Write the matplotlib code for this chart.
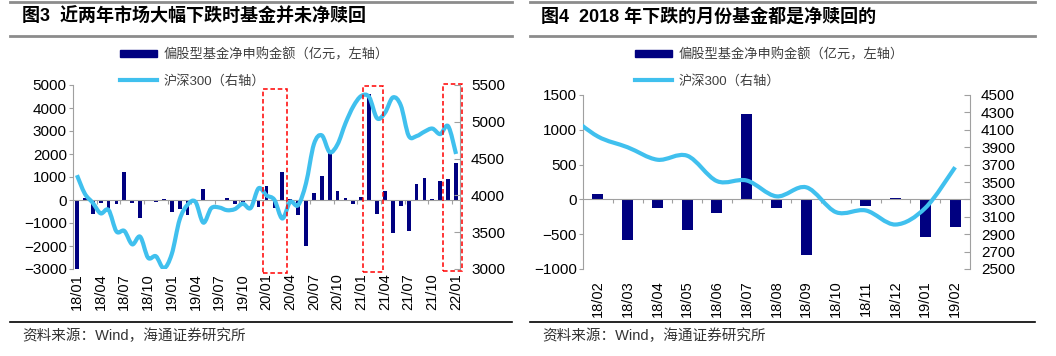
import numpy as np
import matplotlib
matplotlib.use('Agg')
import matplotlib.pyplot as plt
from matplotlib.path import Path
from matplotlib.patches import PathPatch, Patch, Rectangle
from matplotlib.lines import Line2D

plt.rcParams['font.family'] = ['Liberation Sans', 'Noto Sans CJK SC']

# 图3 数据：2018/01 - 2022/01，偏股型基金净申购（亿元）与沪深300月末点位
months3 = [f'{y:02d}/{m:02d}' for y in range(18, 23) for m in range(1, 13)][:49]
flow3 = [-3000, 77, -590, -130, -443, -192, 1231, -125, -794, -15, -101, 25,
         -534, -390, -660, -50, 480, 10, -60, 100, -170, -100, -60, -320,
         630, -330, 1220, 40, -670, -1980, 300, 1050, 2030, 380, 100, -170,
         110, 4590, -630, 390, -1450, -250, -1340, 710, 960, 60, 840, 900, 1590]
hs300_3 = [4275, 4023, 3899, 3756, 3802, 3510, 3517, 3335, 3439, 3153, 3173, 3011,
           3202, 3670, 3873, 3913, 3630, 3826, 3836, 3799, 3814, 3887, 3829, 4097,
           3999, 3940, 3686, 3912, 3867, 4164, 4695, 4816, 4588, 4695, 4980, 5211,
           5351, 5336, 5048, 5123, 5331, 5224, 4811, 4806, 4866, 4908, 4833, 4940,
           4563]

# 图4 数据：2018/02 - 2019/02（沪深300 多带一个 2018/01 点，线从左边缘进入）
months4 = months3[1:14]
flow4 = flow3[1:14]
hs300_4 = hs300_3[0:14]

NAVY = '#000080'
CYAN = '#40C0EE'
GREY = '#A0A0A0'
W, H = 1056, 356


def smooth_path(xs, ys):
    # 平滑曲线（类似 Excel 的平滑线），用三次贝塞尔段连接各数据点
    pts = np.column_stack([xs, ys]).astype(float)
    ext = np.vstack([pts[0], pts, pts[-1]])
    verts = [pts[0]]
    codes = [Path.MOVETO]
    for k in range(len(pts) - 1):
        p0, p1, p2, p3 = ext[k], ext[k + 1], ext[k + 2], ext[k + 3]
        verts += [p1 + (p2 - p0) / 6, p2 - (p3 - p1) / 6, p2]
        codes += [Path.CURVE4] * 3
    return Path(verts, codes)


def style_axes(ax, axr, labels, label_step, label_pad, boundary_ticks):
    for s in ['top', 'right']:
        ax.spines[s].set_visible(False)
    ax.spines['left'].set_color(GREY)
    ax.spines['bottom'].set_color(GREY)
    ax.spines['bottom'].set_position(('data', 0))
    ax.set_xticks(boundary_ticks, labels=[''] * len(boundary_ticks))
    ax.tick_params(axis='x', direction='out', length=3, color=GREY)
    ax.tick_params(axis='y', direction='out', length=3, color=GREY, pad=1.5, labelsize=11)
    for s in ['top', 'left', 'bottom']:
        axr.spines[s].set_visible(False)
    axr.spines['right'].set_color(GREY)
    axr.tick_params(axis='y', direction='in', length=4, color=GREY, pad=8, labelsize=11)
    sec = ax.secondary_xaxis('bottom')
    sec.spines['bottom'].set_visible(False)
    pos = np.arange(len(labels))[::label_step]
    sec.set_xticks(pos, labels=labels[::label_step], rotation=90)
    sec.tick_params(length=0, pad=label_pad, labelsize=10.5)


def add_legend(x_px):
    handles = [Patch(color=NAVY), Line2D([], [], color=CYAN, lw=3)]
    labels = ['偏股型基金净申购金额（亿元，左轴）', '沪深300（右轴）']
    fig.legend(handles, labels, loc='upper left', bbox_to_anchor=(x_px / W, 1 - 48 / H),
               frameon=False, borderpad=0, borderaxespad=0, handlelength=2.8,
               handleheight=0.45, handletextpad=0.5, labelspacing=1.0,
               fontsize=9.5, labelcolor='#404040')


fig = plt.figure(figsize=(W / 100, H / 100), dpi=100)

# ---------- 图3 ----------
ax3 = fig.add_axes([73 / W, 1 - 269 / H, 387 / W, 184 / H])
x3 = np.arange(len(flow3))
ax3.bar(x3, flow3, width=0.48, color=NAVY, zorder=2)
ax3.set_xlim(-0.5, len(flow3) - 0.5)
ax3.set_ylim(-3000, 5000)
ax3.set_yticks(np.arange(-3000, 5001, 1000))
ax3r = ax3.twinx()
ax3r.set_ylim(3000, 5500)
ax3r.set_yticks(np.arange(3000, 5501, 500))
ax3r.add_patch(PathPatch(smooth_path(x3, hs300_3), fill=False, edgecolor=CYAN,
                         lw=3, joinstyle='round'))
style_axes(ax3, ax3r, months3, 3, 3, np.arange(2.5, len(flow3), 3))

# 红色虚线框：市场大幅下跌的月份
for x0, x1, y0, y1 in [(23.5, 26.55, -3170, 4830), (36.25, 38.7, -3140, 4970),
                       (46.3, 48.74, -3090, 5030)]:
    ax3r.add_patch(Rectangle((x0, y0), x1 - x0, y1 - y0, transform=ax3.transData,
                             fill=False, edgecolor='red', lw=1.1,
                             ls=(0, (3, 1.8)), clip_on=False, zorder=5))

# ---------- 图4 ----------
ax4 = fig.add_axes([583 / W, 1 - 269 / H, 387 / W, 174 / H])
x4 = np.arange(len(flow4))
ax4.bar(x4, flow4, width=0.37, color=NAVY, zorder=2)
ax4.set_xlim(-0.5, len(flow4) - 0.5)
ax4.set_ylim(-1000, 1500)
ax4.set_yticks(np.arange(-1000, 1501, 500))
ax4r = ax4.twinx()
ax4r.set_ylim(2500, 4500)
ax4r.set_yticks(np.arange(2500, 4501, 200))
ax4r.add_patch(PathPatch(smooth_path(np.arange(len(hs300_4)) - 1, hs300_4), fill=False,
                         edgecolor=CYAN, lw=3, joinstyle='round'))
style_axes(ax4, ax4r, months4, 1, 8, np.arange(0.5, len(flow4) - 1, 1))

# ---------- 标题、图例、横线、资料来源 ----------
fig.text(22 / W, 1 - 17 / H, '图3  近两年市场大幅下跌时基金并未净赎回',
         fontsize=13, fontweight='bold', va='center')
fig.text(541 / W, 1 - 17 / H, '图4  2018 年下跌的月份基金都是净赎回的',
         fontsize=13, fontweight='bold', va='center')
add_legend(120)
add_legend(635)

for xa, xb in [(10, 512), (530, 1035)]:
    fig.add_artist(Line2D([xa / W, xb / W], [1 - 2 / H] * 2, color='#8C8C8C', lw=2))
    fig.add_artist(Line2D([xa / W, xb / W], [1 - 36 / H] * 2, color='#8C8C8C', lw=2))
    fig.add_artist(Line2D([xa / W, xb / W], [1 - 322 / H] * 2, color='black', lw=1.2))
    fig.text((xa + 12) / W, 1 - 336 / H, '资料来源：Wind，海通证券研究所',
             fontsize=10.5, va='center', color='#333333')

fig.savefig('out.png', dpi=100)
